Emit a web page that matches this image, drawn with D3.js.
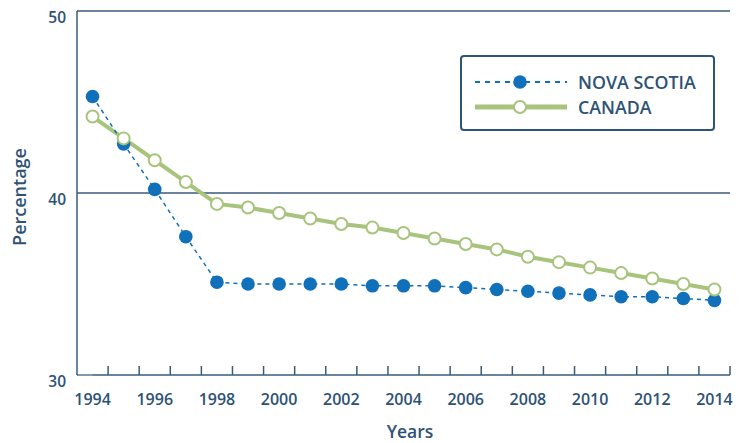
<!DOCTYPE html>
<html><head><meta charset="utf-8">
<script src="https://cdn.jsdelivr.net/npm/d3@7"></script>
<style>
html,body{margin:0;padding:0;background:#fff;}
text{font-family:"Open Sans",Lato,sans-serif;font-weight:600;fill:#2d5274;}
</style></head>
<body><svg id="c" width="743" height="443"></svg>
<script>
const years = [1994,1995,1996,1997,1998,1999,2000,2001,2002,2003,2004,2005,2006,2007,2008,2009,2010,2011,2012,2013,2014];
const novaScotia = [45.3,42.7,40.2,37.6,35.1,35.0,35.0,35.0,35.0,34.9,34.9,34.9,34.8,34.7,34.6,34.5,34.4,34.3,34.3,34.2,34.1];
const canada = [44.2,43.0,41.8,40.6,39.4,39.2,38.9,38.6,38.3,38.1,37.8,37.5,37.2,36.9,36.5,36.2,35.9,35.6,35.3,35.0,34.7];
const yTicks = [30,40,50];
const xTickLabels = [1994,1996,1998,2000,2002,2004,2006,2008,2010,2012,2014];
const seriesNames = ["NOVA SCOTIA","CANADA"];

const axisColor = "#3a5b7a", blue = "#1170ba", green = "#a8c47c";
const svg = d3.select("#c");
const L = 77, R = 730, T = 11, B = 375;
const x = d3.scaleBand().domain(years).range([L, R]);
const y = d3.scaleLinear().domain([30, 50]).range([B, T]);
const cx = d => x(d) + x.bandwidth()/2;

svg.append("line").attr("x1", L).attr("x2", R).attr("y1", y(50)).attr("y2", y(50)).attr("stroke", axisColor).attr("stroke-width", 1.5);
svg.append("line").attr("x1", L).attr("x2", R).attr("y1", y(40)).attr("y2", y(40)).attr("stroke", axisColor).attr("stroke-width", 1.5);
svg.append("line").attr("x1", L).attr("x2", L).attr("y1", T).attr("y2", B).attr("stroke", axisColor).attr("stroke-width", 1.5);
svg.append("line").attr("x1", L).attr("x2", R).attr("y1", B).attr("y2", B).attr("stroke", axisColor).attr("stroke-width", 1.5);
svg.append("line").attr("x1", L + 1).attr("x2", cx(years[0])).attr("y1", B).attr("y2", B).attr("stroke", "#8ea0b2").attr("stroke-width", 1.5);
const bounds = years.slice(1).map(d => x(d)).concat([R]);
svg.selectAll(".xt").data(bounds).enter().append("line")
  .attr("x1", d => d).attr("x2", d => d).attr("y1", B).attr("y2", B - 9)
  .attr("stroke", axisColor).attr("stroke-width", 1.5);
svg.selectAll(".xl").data(xTickLabels).enter().append("text")
  .attr("x", d => cx(d)).attr("y", 405).attr("text-anchor", "middle")
  .attr("font-size", 16).text(d => d);
svg.selectAll(".yl").data(yTicks).enter().append("text")
  .attr("x", 66).attr("y", d => y(d) + 12).attr("text-anchor", "end")
  .attr("font-size", 15.5).text(d => d);
svg.append("text").attr("x", 410).attr("y", 438).attr("text-anchor", "middle").attr("font-size", 17.5).text("Years");
svg.append("text").attr("transform", "translate(26,197) rotate(-90)").attr("text-anchor", "middle").attr("font-size", 18).text("Percentage");

const line = d3.line().x((d, i) => cx(years[i])).y(d => y(d));
svg.append("path").datum(canada).attr("d", line).attr("fill", "none").attr("stroke", green).attr("stroke-width", 4);
svg.append("path").datum(novaScotia).attr("d", line).attr("fill", "none").attr("stroke", blue).attr("stroke-width", 1.5).attr("stroke-dasharray", "4,4");
svg.selectAll(".ns").data(novaScotia).enter().append("circle")
  .attr("cx", (d, i) => cx(years[i])).attr("cy", d => y(d)).attr("r", 6.8).attr("fill", blue);
svg.selectAll(".ca").data(canada).enter().append("circle")
  .attr("cx", (d, i) => cx(years[i])).attr("cy", d => y(d)).attr("r", 6).attr("fill", "#fff").attr("stroke", green).attr("stroke-width", 2);

const lg = svg.append("g");
lg.append("rect").attr("x", 461).attr("y", 56).attr("width", 253).attr("height", 74).attr("rx", 3)
  .attr("fill", "#fff").attr("stroke", "#2e5474").attr("stroke-width", 2);
lg.append("line").attr("x1", 475).attr("x2", 567).attr("y1", 82).attr("y2", 82).attr("stroke", blue).attr("stroke-width", 2).attr("stroke-dasharray", "5,5");
lg.append("circle").attr("cx", 520).attr("cy", 82).attr("r", 6.8).attr("fill", blue);
lg.append("line").attr("x1", 475).attr("x2", 567).attr("y1", 107).attr("y2", 107).attr("stroke", green).attr("stroke-width", 5);
lg.append("circle").attr("cx", 520).attr("cy", 107).attr("r", 6).attr("fill", "#fff").attr("stroke", green).attr("stroke-width", 2);
lg.selectAll(".lt").data(seriesNames).enter().append("text")
  .attr("x", 578).attr("y", (d, i) => 88.5 + i * 25).attr("font-size", 17.8).text(d => d);
</script></body></html>
